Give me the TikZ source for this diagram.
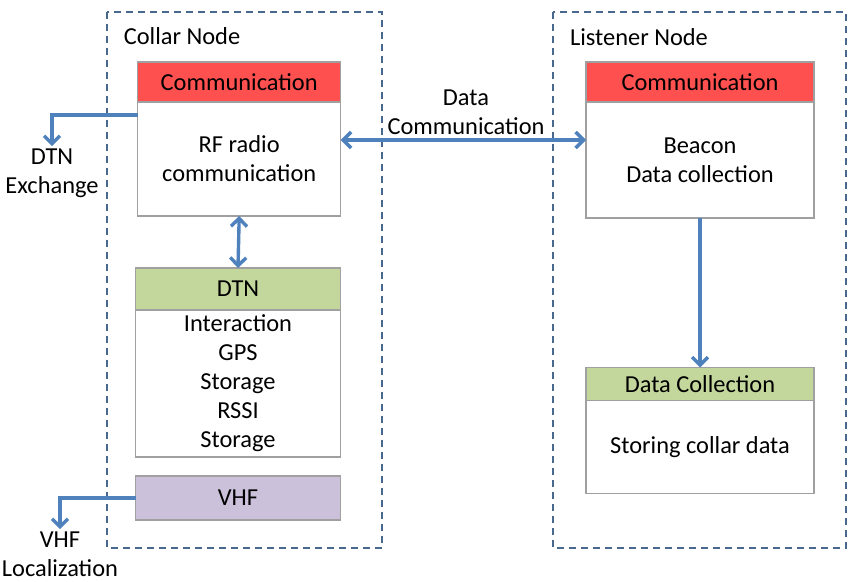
\documentclass[tikz,border=0pt]{standalone}
\usepackage{fontspec}
\setmainfont{Carlito}
\usepackage{tikz}
\usetikzlibrary{arrows.meta}
\definecolor{headred}{HTML}{FF5050}
\definecolor{headgreen}{HTML}{C3D69B}
\definecolor{headviolet}{HTML}{CCC1DA}
\definecolor{boxgray}{HTML}{A0A0A0}
\definecolor{linkblue}{HTML}{4F81BD}
\definecolor{frameblue}{HTML}{48688E}
\tikzset{
	>={Straight Barb[length=4pt,width=8pt]},
	frame/.style={
		draw=frameblue,
		line width=.7pt,
		dash pattern=on 3.5pt off 2.5pt,
	},
	block/.style={
		draw=boxgray,
		line width=.6pt,
		inner sep=0,
		outer sep=0,
		align=center,
	},
	link/.style={
		draw=linkblue,
		line width=1.7pt,
	},
	label/.style={
		align=center,
		inner sep=1pt,
	}
}

\begin{document}
\begin{tikzpicture}[x=0.5pt,y=-0.5pt,font=\fontsize{12.2}{14.5}\selectfont]
	\useasboundingbox (0,0) rectangle (866,582);
	
	\draw[frame] (107,12) rectangle (382,548);
	\draw[frame] (553,12) rectangle (846,548);
	\node (cn) at (182,36) {Collar Node};
	\node (ln) at (639,37) {Listener Node};
	
	\node[block,fill=headred,minimum width=101.5pt,minimum height=20pt] (ch) at (239.2,82) {Communication};
	\node[block,minimum width=101.5pt,minimum height=57pt] (cb) at (239.2,159) {RF radio\\communication};
	\node[block,fill=headgreen,minimum width=102.5pt,minimum height=21pt] (dh) at (238,289) {DTN};
	\node[block,minimum width=102.5pt,minimum height=73.5pt] (db) at (238,383.5) {Interaction\\GPS\\Storage\\RSSI\\Storage};
	\node[block,fill=headviolet,minimum width=102.5pt,minimum height=22pt] (vh) at (238,498) {VHF};
	
	\node[block,fill=headred,minimum width=114pt,minimum height=20pt] (lh) at (700,82) {Communication};
	\node[block,minimum width=114pt,minimum height=58pt] (lb) at (700,160) {Beacon\\Data collection};
	\node[block,fill=headgreen,minimum width=114pt,minimum height=16.5pt] (dch) at (700,384) {Data Collection};
	\node[block,minimum width=114pt,minimum height=46.3pt] (dcb) at (700,447) {Storing collar data};
	
	\node[label] (dtnx) at (52,173) {DTN\\Exchange};
	\node[label] (vhfl) at (60,554) {VHF\\Localization};
	\node[label] (dc) at (466,112) {Data\\Communication};
	
	\coordinate (dcy) at (0,140);
	\coordinate (dxy) at (0,115);
	
	\draw[link,<->] (cb.east |- dcy) -- (lb.west |- dcy);
	\draw[link,<->] (cb.south) -- (dh.north);
	\draw[link,->] (lb.south) -- (dch.north);
	\draw[link,->] (cb.west |- dxy) -| (dtnx.north);
	\draw[link,->] (vh.west) -| (vhfl.north);
	
\end{tikzpicture}
\end{document}
